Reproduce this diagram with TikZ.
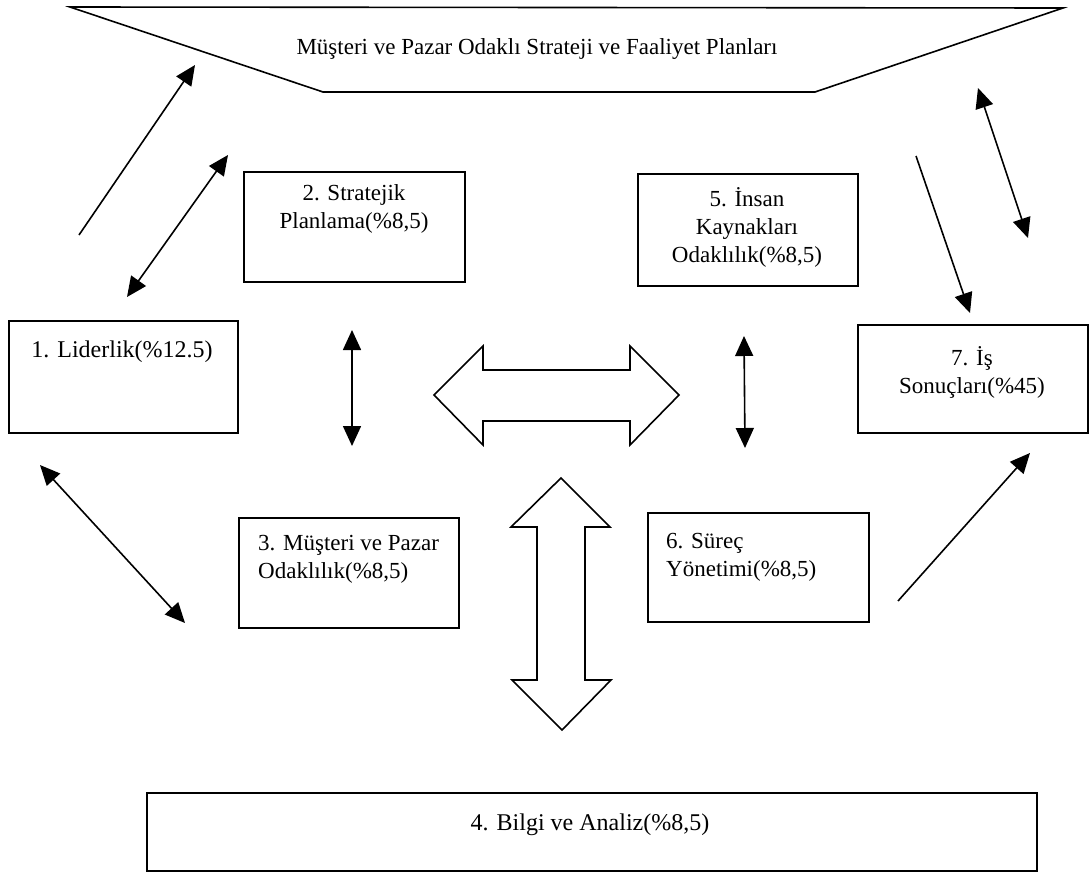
\documentclass[tikz,border=0pt]{standalone}
\usepackage{fontspec}
\setmainfont{Liberation Serif}
\usetikzlibrary{arrows.meta}
% multi-line labels whose reference point is the first baseline
\newcommand\ctr[1]{\parbox[t]{240pt}{\centering #1}}
\newcommand\lft[1]{\parbox[t]{210pt}{\raggedright #1}}
\begin{document}
\begin{tikzpicture}[x=1pt,y=-1pt,
  outline/.style={draw=black, line width=1.6pt, line join=miter},
  box/.style={outline, rectangle, inner sep=0pt, anchor=north west},
  txt/.style={inner sep=0pt, font=\fontsize{23}{28}\selectfont},
  bigtxt/.style={inner sep=0pt, font=\fontsize{24}{28}\selectfont},
  link/.style={line width=1.6pt, -{Triangle[length=20pt,width=18pt]}},
  dlink/.style={line width=1.6pt, {Triangle[length=20pt,width=18pt]}-{Triangle[length=20pt,width=18pt]}},
  block/.style={outline, fill=white}]
\useasboundingbox (0,0) rectangle (1090,875);

% strategy plan funnel at the top
\draw[outline] (70,7) -- (1063,8) -- (815,92) -- (323,92) -- cycle;
\node[txt, anchor=base] (plan) at (537,55) {Müşteri ve Pazar Odaklı Strateji ve Faaliyet Planları};

% criteria boxes
\node[box, minimum width=229pt, minimum height=112pt] (b1) at (8,320) {};
\node[bigtxt, anchor=base] (b1t) at (122,357) {1. Liderlik(\%12.5)};

\node[box, minimum width=221pt, minimum height=110pt] (b2) at (243,171) {};
\node[txt, anchor=base] (b2t) at (354,200) {\ctr{2. Stratejik\\Planlama(\%8,5)}};

\node[box, minimum width=220pt, minimum height=110pt] (b3) at (238,517) {};
\node[txt, anchor=base west] (b3t) at (258,550) {\lft{3. Müşteri ve Pazar\\Odaklılık(\%8,5)}};

\node[box, minimum width=890pt, minimum height=78pt] (b4) at (146,792) {};
\node[bigtxt, anchor=base] (b4t) at (590,830) {4. Bilgi ve Analiz(\%8,5)};

\node[box, minimum width=220pt, minimum height=112pt] (b5) at (637,173) {};
\node[txt, anchor=base] (b5t) at (747,206) {\ctr{5. İnsan\\Kaynakları\\Odaklılık(\%8,5)}};

\node[box, minimum width=221pt, minimum height=109pt] (b6) at (647,512) {};
\node[txt, anchor=base west] (b6t) at (666,548) {\lft{6. Süreç\\Yönetimi(\%8,5)}};

\node[box, minimum width=230pt, minimum height=108pt] (b7) at (857,324) {};
\node[txt, anchor=base] (b7t) at (972,365) {\ctr{7. İş\\Sonuçları(\%45)}};

% hollow block arrows in the middle
\draw[block] (434,395) -- (483,346) -- (483,370) -- (630,370) -- (630,346)
  -- (679,395) -- (630,445) -- (630,421) -- (483,421) -- (483,445) -- cycle;
\draw[block] (561,478) -- (610,527) -- (585,527) -- (585,680) -- (611,680)
  -- (562,730) -- (512,680) -- (537,680) -- (537,527) -- (511,527) -- cycle;

% end points of the line arrows
\coordinate (a1s) at (79,235);   \coordinate (a1e) at (195,65);
\coordinate (a2s) at (127,297);  \coordinate (a2e) at (228,155);
\coordinate (a3s) at (40,465);   \coordinate (a3e) at (185,623);
\coordinate (a4s) at (352,330);  \coordinate (a4e) at (352,446);
\coordinate (a5s) at (744,336);  \coordinate (a5e) at (745,448);
\coordinate (a6s) at (916,156);  \coordinate (a6e) at (970,313);
\coordinate (a7s) at (978,88);   \coordinate (a7e) at (1028,238);
\coordinate (a8s) at (898,601);  \coordinate (a8e) at (1030,453);

\draw[link]  (a1s) -- (a1e);
\draw[dlink] (a2s) -- (a2e);
\draw[dlink] (a3s) -- (a3e);
\draw[dlink] (a4s) -- (a4e);
\draw[dlink] (a5s) -- (a5e);
\draw[link]  (a6s) -- (a6e);
\draw[dlink] (a7s) -- (a7e);
\draw[link]  (a8s) -- (a8e);
\end{tikzpicture}
\end{document}
